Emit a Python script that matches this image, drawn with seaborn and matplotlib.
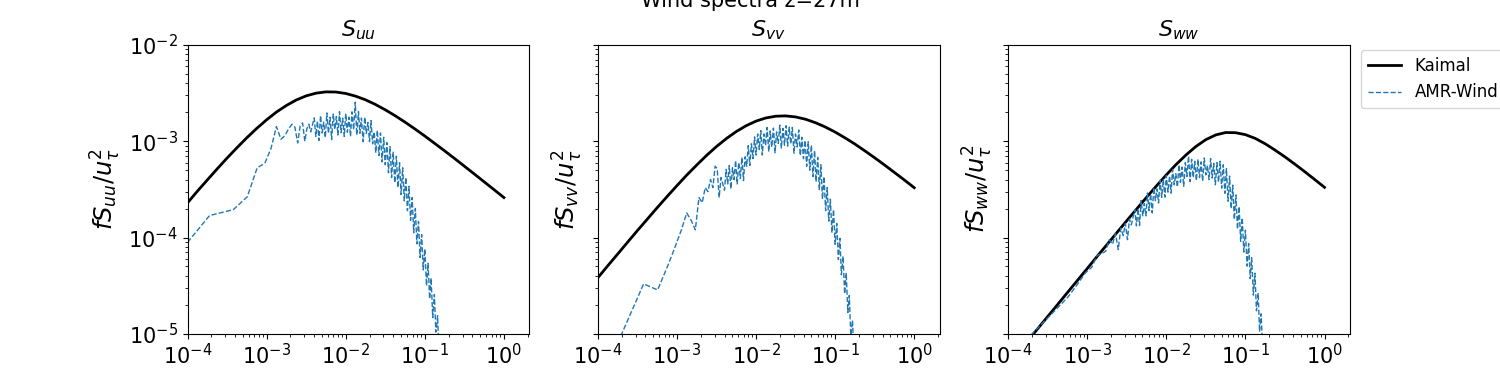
import matplotlib
matplotlib.use("Agg")
import matplotlib.pyplot as plt
import seaborn as sns

# Kaimal reference spectra (eighth-decade steps)
freq_kaimal = [1.00e-4, 1.33e-4, 1.78e-4, 2.37e-4, 3.16e-4, 4.22e-4, 5.62e-4, 7.50e-4, 1.00e-3,
               1.33e-3, 1.78e-3, 2.37e-3, 3.16e-3, 4.22e-3, 5.62e-3, 7.50e-3, 1.00e-2, 1.33e-2,
               1.78e-2, 2.37e-2, 3.16e-2, 4.22e-2, 5.62e-2, 7.50e-2, 0.100, 0.133, 0.178, 0.237,
               0.316, 0.422, 0.562, 0.750, 1.00]
kaimal_uu = [2.29e-4, 3.02e-4, 3.96e-4, 5.16e-4, 6.68e-4, 8.57e-4, 1.087e-3, 1.360e-3, 1.670e-3,
             2.009e-3, 2.354e-3, 2.683e-3, 2.962e-3, 3.160e-3, 3.258e-3, 3.247e-3, 3.136e-3, 2.943e-3,
             2.693e-3, 2.413e-3, 2.122e-3, 1.841e-3, 1.579e-3, 1.342e-3, 1.133e-3, 9.51e-4, 7.95e-4,
             6.63e-4, 5.51e-4, 4.57e-4, 3.79e-4, 3.14e-4, 2.60e-4]
kaimal_vv = [3.81e-5, 5.06e-5, 6.72e-5, 8.90e-5, 1.177e-4, 1.550e-4, 2.036e-4, 2.660e-4, 3.453e-4,
             4.445e-4, 5.66e-4, 7.12e-4, 8.80e-4, 1.066e-3, 1.260e-3, 1.450e-3, 1.618e-3, 1.745e-3,
             1.820e-3, 1.834e-3, 1.789e-3, 1.694e-3, 1.561e-3, 1.408e-3, 1.246e-3, 1.086e-3, 9.35e-4,
             7.96e-4, 6.74e-4, 5.66e-4, 4.74e-4, 3.96e-4, 3.29e-4]
kaimal_ww = [4.76e-6, 6.35e-6, 8.47e-6, 1.129e-5, 1.506e-5, 2.008e-5, 2.677e-5, 3.568e-5, 4.755e-5,
             6.34e-5, 8.44e-5, 1.122e-4, 1.492e-4, 1.977e-4, 2.611e-4, 3.43e-4, 4.467e-4, 5.74e-4,
             7.22e-4, 8.83e-4, 1.039e-3, 1.163e-3, 1.232e-3, 1.227e-3, 1.171e-3, 1.071e-3, 9.41e-4,
             8.09e-4, 6.88e-4, 5.78e-4, 4.83e-4, 4.01e-4, 3.32e-4]

# AMR-Wind spectra
freq_amr = [1.0e-4, 1.9e-4, 3.8e-4, 5.7e-4, 7.6e-4, 9.5e-4, 1.14e-3, 1.33e-3, 1.52e-3, 1.71e-3,
            1.90e-3, 2.09e-3, 2.28e-3, 2.47e-3, 2.66e-3, 2.85e-3, 3.04e-3, 3.23e-3, 3.42e-3, 3.61e-3,
            4.00e-3, 4.19e-3, 4.39e-3, 4.59e-3, 4.81e-3, 5.04e-3, 5.27e-3, 5.52e-3, 5.78e-3, 6.05e-3,
            6.34e-3, 6.64e-3, 6.95e-3, 7.28e-3, 7.62e-3, 7.98e-3, 8.35e-3, 8.75e-3, 9.16e-3, 9.59e-3,
            1.00e-2, 1.05e-2, 1.10e-2, 1.15e-2, 1.20e-2, 1.26e-2, 1.32e-2, 1.38e-2, 1.45e-2, 1.51e-2,
            1.58e-2, 1.66e-2, 1.74e-2, 1.82e-2, 1.91e-2, 2.00e-2, 2.09e-2, 2.19e-2, 2.29e-2, 2.40e-2,
            2.51e-2, 2.63e-2, 2.75e-2, 2.88e-2, 3.02e-2, 3.16e-2, 3.31e-2, 3.47e-2, 3.63e-2, 3.80e-2,
            3.98e-2, 4.17e-2, 4.37e-2, 4.57e-2, 4.79e-2, 5.01e-2, 5.25e-2, 5.50e-2, 5.75e-2, 6.03e-2,
            6.31e-2, 6.61e-2, 6.92e-2, 7.24e-2, 7.59e-2, 7.94e-2, 8.32e-2, 8.71e-2, 9.12e-2, 9.55e-2,
            1.00e-1, 1.05e-1, 1.10e-1, 1.15e-1, 1.20e-1, 1.26e-1, 1.32e-1, 1.38e-1, 1.45e-1, 1.51e-1,
            1.58e-1, 1.66e-1, 1.74e-1, 1.82e-1]
amr_uu = [8.9e-5, 1.69e-4, 1.95e-4, 2.65e-4, 5.3e-4, 5.9e-4, 8.5e-4, 1.42e-3, 1.05e-3, 1.15e-3,
          1.35e-3, 1.50e-3, 1.40e-3, 9.6e-4, 1.45e-3, 1.55e-3, 1.0e-3, 1.35e-3, 1.50e-3, 1.25e-3,
          1.75e-3, 1.12e-3, 1.62e-3, 1.02e-3, 1.85e-3, 1.22e-3, 1.58e-3, 1.09e-3, 1.97e-3, 1.21e-3,
          1.78e-3, 1.04e-3, 1.92e-3, 1.33e-3, 1.81e-3, 1.16e-3, 2.03e-3, 1.23e-3, 1.74e-3, 1.12e-3,
          1.94e-3, 1.24e-3, 1.78e-3, 1.12e-3, 2.02e-3, 1.32e-3, 2.55e-3, 1.16e-3, 2.04e-3, 1.21e-3,
          1.74e-3, 9.9e-4, 1.78e-3, 1.20e-3, 1.57e-3, 9.9e-4, 1.64e-3, 9.4e-4, 1.25e-3, 7.6e-4,
          1.30e-3, 7.1e-4, 1.22e-3, 6.1e-4, 1.10e-3, 5.7e-4, 9.7e-4, 4.7e-4, 8.8e-4, 4.2e-4,
          7.7e-4, 3.7e-4, 7.0e-4, 3.3e-4, 6.0e-4, 2.8e-4, 5.3e-4, 2.4e-4, 4.2e-4, 1.9e-4,
          3.4e-4, 1.51e-4, 2.6e-4, 1.12e-4, 2.0e-4, 8.6e-5, 1.47e-4, 6.2e-5, 1.07e-4, 4.6e-5,
          7.6e-5, 3.15e-5, 5.4e-5, 2.3e-5, 3.8e-5, 1.47e-5, 2.56e-5, 1.04e-5, 1.54e-5, 6.2e-6,
          9.5e-6, 3.7e-6, 4.8e-6, 2.1e-6]
amr_vv = [3.0e-6, 9.0e-6, 3.3e-5, 2.85e-5, 5.0e-5, 8.0e-5, 1.2e-4, 1.8e-4, 1.5e-4, 1.2e-4,
          2.6e-4, 2.3e-4, 3.3e-4, 3.0e-4, 4.0e-4, 3.3e-4, 5.5e-4, 5.2e-4, 2.6e-4, 4.2e-4,
          3.1e-4, 5.1e-4, 3.6e-4, 5.6e-4, 3.2e-4, 5.3e-4, 4.0e-4, 6.3e-4, 3.6e-4, 6.0e-4,
          4.1e-4, 6.8e-4, 3.9e-4, 6.9e-4, 5.5e-4, 9.0e-4, 5.6e-4, 9.4e-4, 6.6e-4, 1.11e-3,
          7.2e-4, 1.19e-3, 8.2e-4, 1.29e-3, 7.2e-4, 1.19e-3, 9.0e-4, 1.39e-3, 7.8e-4, 1.28e-3,
          8.7e-4, 1.37e-3, 7.6e-4, 1.25e-3, 9.5e-4, 1.47e-3, 8.5e-4, 1.36e-3, 9.1e-4, 1.45e-3,
          8.9e-4, 1.40e-3, 9.4e-4, 1.39e-3, 7.5e-4, 1.19e-3, 8.7e-4, 1.31e-3, 7.1e-4, 1.10e-3,
          6.6e-4, 1.02e-3, 5.5e-4, 9.9e-4, 5.0e-4, 9.1e-4, 4.3e-4, 8.0e-4, 3.8e-4, 6.8e-4,
          3.15e-4, 5.7e-4, 2.5e-4, 4.3e-4, 1.9e-4, 3.3e-4, 1.48e-4, 2.5e-4, 1.12e-4, 1.95e-4,
          8.5e-5, 1.4e-4, 5.9e-5, 9.8e-5, 4.1e-5, 6.4e-5, 2.6e-5, 4.3e-5, 1.66e-5, 2.5e-5,
          9.6e-6, 1.38e-5, 5.3e-6, 4.0e-6]
amr_ww = [2.5e-6, 9.5e-6, 1.7e-5, 2.4e-5, 3.3e-5, 4.3e-5, 4.9e-5, 6.5e-5, 6.8e-5, 7.2e-5,
          9.5e-5, 8.5e-5, 1.10e-4, 7.5e-5, 1.25e-4, 1.05e-4, 1.40e-4, 9.5e-5, 1.55e-4, 1.35e-4,
          1.95e-4, 1.32e-4, 2.0e-4, 1.33e-4, 2.43e-4, 1.68e-4, 2.25e-4, 1.68e-4, 2.9e-4, 1.9e-4,
          2.83e-4, 1.8e-4, 3.3e-4, 2.42e-4, 3.2e-4, 2.28e-4, 3.94e-4, 2.62e-4, 4.0e-4, 2.63e-4,
          4.4e-4, 2.96e-4, 4.37e-4, 2.89e-4, 5.1e-4, 3.53e-4, 4.6e-4, 3.35e-4, 5.7e-4, 3.74e-4,
          5.4e-4, 3.4e-4, 6.0e-4, 4.3e-4, 7.0e-4, 3.8e-4, 6.5e-4, 4.2e-4, 6.2e-4, 3.9e-4,
          6.5e-4, 4.2e-4, 6.1e-4, 3.85e-4, 6.7e-4, 4.47e-4, 5.6e-4, 4.0e-4, 6.6e-4, 4.15e-4,
          5.9e-4, 3.53e-4, 6.0e-4, 3.76e-4, 6.2e-4, 3.26e-4, 5.7e-4, 2.88e-4, 5.2e-4, 2.38e-4,
          4.34e-4, 2.0e-4, 3.5e-4, 1.54e-4, 2.77e-4, 1.22e-4, 2.1e-4, 9.1e-5, 1.6e-4, 7.06e-5,
          1.19e-4, 5.04e-5, 8.66e-5, 3.74e-5, 6.16e-5, 2.52e-5, 4.26e-5, 1.73e-5, 2.66e-5, 1.05e-5,
          1.61e-5, 6.3e-6, 8.5e-6, 3.4e-6]

components = ["uu", "vv", "ww"]
kaimal = [kaimal_uu, kaimal_vv, kaimal_ww]
amr = [amr_uu, amr_vv, amr_ww]

fig, axes = plt.subplots(1, 3, figsize=(15, 3.75))

for i, ax in enumerate(axes):
    comp = components[i]
    sns.lineplot(x=freq_kaimal, y=kaimal[i], ax=ax, color="black", lw=2, label="Kaimal")
    sns.lineplot(x=freq_amr, y=amr[i], ax=ax, color="tab:blue", lw=1, ls="--", label="AMR-Wind")
    if ax.get_legend() is not None:
        ax.get_legend().remove()
    ax.set_xscale("log")
    ax.set_yscale("log")
    ax.set_xlim(1e-4, 2.1)
    ax.set_ylim(1e-5, 1e-2)
    ax.set_title(rf"$S_{{{comp}}}$", fontsize=16)
    ax.set_ylabel(rf"$fS_{{{comp}}}/u_\tau^2$", fontsize=17.5)
    ax.set_xlabel("")
    ax.tick_params(labelsize=15)
    if i > 0:
        ax.tick_params(labelleft=False)

axes[2].legend(loc="upper left", bbox_to_anchor=(1.008, 1.01), fontsize=12)
fig.suptitle("Wind spectra z=27m", fontsize=15, y=0.981, va="baseline")

plt.savefig("out.png", dpi=100)
